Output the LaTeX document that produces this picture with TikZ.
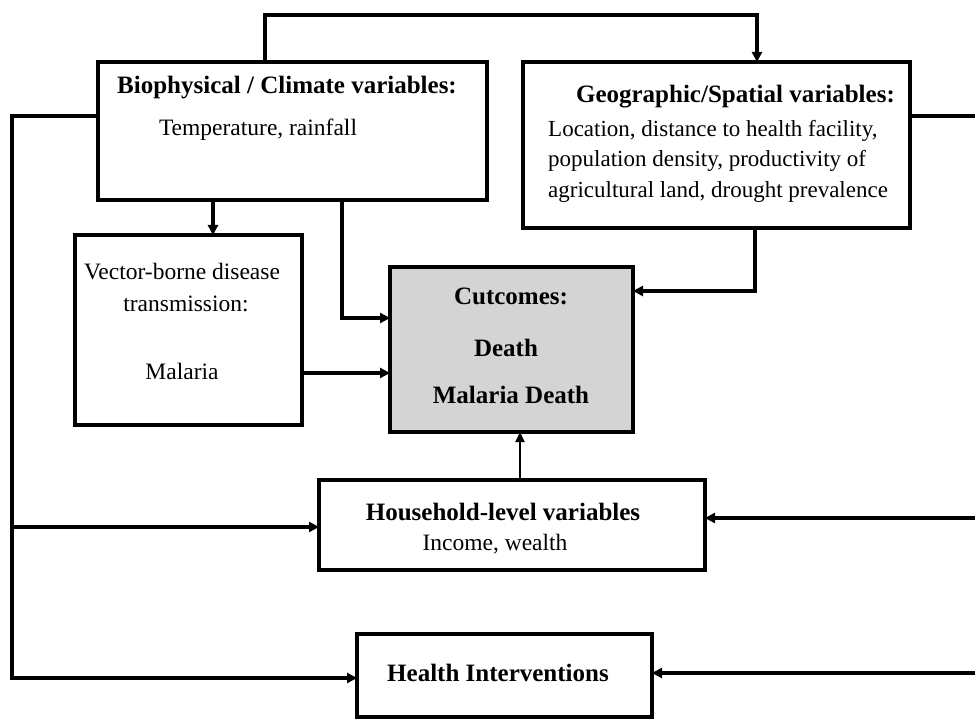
\documentclass[tikz,border=0pt]{standalone}
\usepackage{fontspec}
\setmainfont{Liberation Serif}
\usetikzlibrary{arrows.meta}
\begin{document}
\begin{tikzpicture}[x=1pt,y=-1pt,
  box/.style={draw,line width=3.5pt,minimum width=#1,inner sep=0pt,outer sep=0pt},
  lnk/.style={line width=3.5pt},
  arr/.style={line width=3.5pt,-{Triangle[length=10pt,width=10pt]}},
  thinarr/.style={line width=2pt,-{Triangle[length=10pt,width=9pt]}},
  txt/.style={font=\fontsize{23.5}{26}\selectfont,inner sep=0pt,anchor=base},
  gtxt/.style={font=\fontsize{23}{26}\selectfont,inner sep=0pt,anchor=base west},
  btxt/.style={font=\fontsize{25}{28}\selectfont\bfseries,inner sep=0pt,anchor=base}]
\useasboundingbox (0,0) rectangle (975,719);
% boxes
\node[box=389pt,minimum height=138pt] (bio) at (292.5,131) {};
\node[box=387pt,minimum height=166pt] (geo) at (716.5,145) {};
\node[box=227pt,minimum height=190pt] (vec) at (188.5,330) {};
\node[box=243pt,minimum height=165pt,fill=black!17] (out) at (511.5,349.5) {};
\node[box=386pt,minimum height=90pt] (hh) at (512,525) {};
\node[box=295pt,minimum height=83pt] (hi) at (504.5,675.5) {};
% texts
\node[btxt] (t1) at (287,94) {Biophysical / Climate variables:};
\node[txt] (t2) at (258,136) {Temperature, rainfall};
\node[btxt,anchor=base east] (t3) at (895,103) {Geographic/Spatial variables:};
\node[gtxt] (t4) at (548,137) {Location, distance to health facility,};
\node[gtxt] (t5) at (548,167) {population density, productivity of};
\node[gtxt] (t6) at (548,198) {agricultural land, drought prevalence};
\node[txt] (t7) at (182,280) {Vector-borne disease};
\node[txt] (t8) at (186,312) {transmission:};
\node[txt] (t9) at (182,380) {Malaria};
\node[btxt] (t10) at (511,305) {Cutcomes:};
\node[btxt] (t11) at (506,356) {Death};
\node[btxt] (t12) at (511,403) {Malaria Death};
\node[btxt] (t13) at (503,520) {Household-level variables};
\node[txt] (t14) at (495,550) {Income, wealth};
\node[btxt] (t15) at (498,681) {Health Interventions};
% helper coordinates
\coordinate (ta) at (265,15);
\coordinate (tb) at (757,15);
\coordinate (la) at (12,116);
\coordinate (lb) at (12,678);
\coordinate (lc) at (12,527);
\coordinate (ca) at (213,0);
\coordinate (cb) at (342,318);
\coordinate (cc) at (0,373);
\coordinate (cd) at (755,291);
\coordinate (ce) at (520,0);
\coordinate (ra) at (975,116);
\coordinate (rb) at (975,518);
\coordinate (rc) at (975,673);
% connectors
\draw[arr] (ta |- bio.north) -- (ta) -- (tb) -- (tb |- geo.north);
\draw[arr] (bio.west |- la) -- (la) -- (lb) -- (hi.west |- lb);
\draw[arr] (lc) -- (hh.west |- lc);
\draw[arr] (ca |- bio.south) -- (ca |- vec.north);
\draw[arr] (cb |- bio.south) -- (cb) -- (out.west |- cb);
\draw[arr] (vec.east |- cc) -- (out.west |- cc);
\draw[arr] (cd |- geo.south) -- (cd) -- (out.east |- cd);
\draw[thinarr] (ce |- hh.north) -- (ce |- out.south);
\draw[lnk] (geo.east |- ra) -- (ra);
\draw[arr] (rb) -- (hh.east |- rb);
\draw[arr] (rc) -- (hi.east |- rc);
\end{tikzpicture}
\end{document}
